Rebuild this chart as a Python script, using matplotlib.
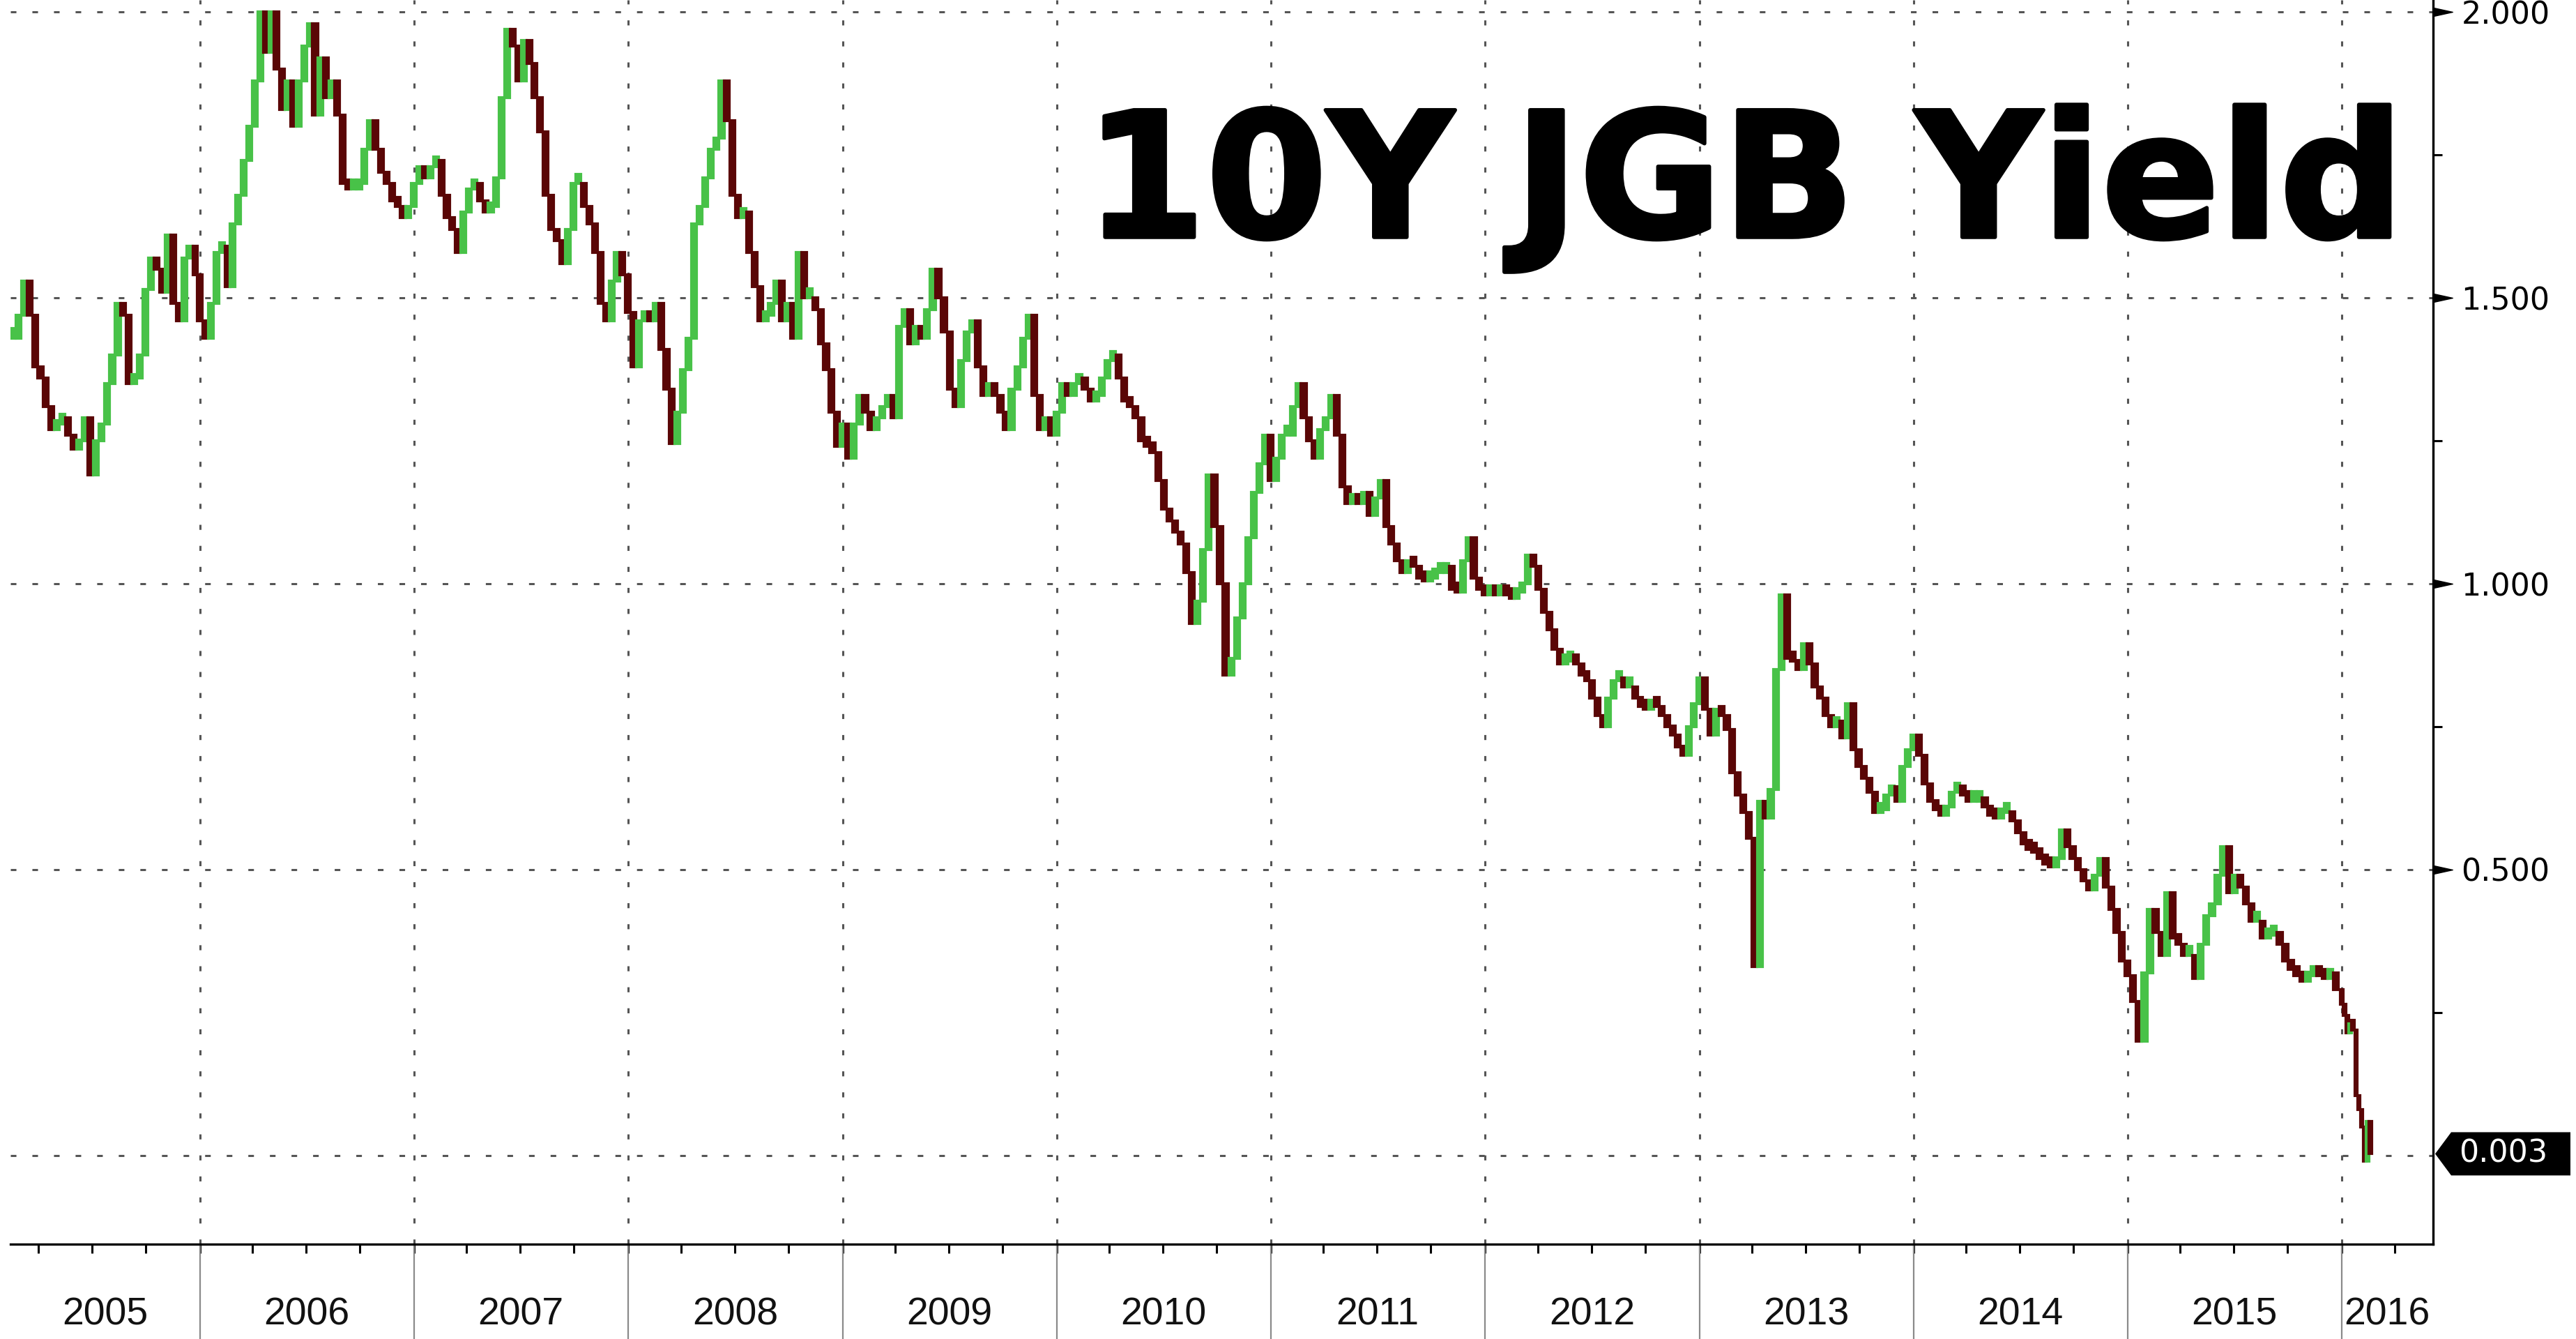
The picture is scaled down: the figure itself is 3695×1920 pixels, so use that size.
import numpy as np
import pandas as pd
import matplotlib
matplotlib.use('Agg')
import matplotlib.pyplot as plt
import matplotlib.dates as mdates
import matplotlib.patheffects as pe
from matplotlib.patches import Polygon
from matplotlib import font_manager

# 10Y JGB yield, ~10-day closes, one list per year
y2005 = [1.43, 1.47, 1.53, 1.47, 1.38, 1.36, 1.31, 1.27, 1.28, 1.29, 1.26, 1.235,
         1.25, 1.29, 1.19, 1.25, 1.28, 1.35, 1.40, 1.49, 1.47, 1.35, 1.36, 1.40,
         1.515, 1.57, 1.55, 1.51, 1.61, 1.49, 1.46, 1.57, 1.59, 1.54]
y2006 = [1.46, 1.43, 1.49, 1.58, 1.59, 1.52, 1.63, 1.68, 1.74, 1.80, 1.88, 2.00,
         1.93, 2.00, 1.90, 1.83, 1.88, 1.80, 1.88, 1.94, 1.98, 1.82, 1.92, 1.85,
         1.88, 1.82, 1.70, 1.69, 1.69, 1.70, 1.76, 1.81, 1.76, 1.72, 1.70, 1.67,
         1.66, 1.64, 1.66]
y2007 = [1.70, 1.73, 1.71, 1.73, 1.74, 1.68, 1.64, 1.62, 1.58, 1.65, 1.69, 1.70,
         1.67, 1.65, 1.66, 1.71, 1.85, 1.97, 1.94, 1.88, 1.95, 1.91, 1.85, 1.79,
         1.68, 1.62, 1.60, 1.56, 1.62, 1.70, 1.70, 1.66, 1.63, 1.58, 1.49, 1.46,
         1.53, 1.58, 1.54]
y2008 = [1.475, 1.38, 1.46, 1.47, 1.46, 1.49, 1.41, 1.34, 1.245, 1.30, 1.375, 1.43,
         1.63, 1.66, 1.71, 1.76, 1.78, 1.88, 1.81, 1.68, 1.64, 1.65, 1.58, 1.52,
         1.46, 1.47, 1.49, 1.53, 1.46, 1.49, 1.43, 1.58, 1.50, 1.50, 1.48, 1.42,
         1.375, 1.30, 1.24]
y2009 = [1.28, 1.22, 1.28, 1.33, 1.30, 1.27, 1.29, 1.31, 1.33, 1.29, 1.45, 1.48,
         1.42, 1.45, 1.43, 1.48, 1.55, 1.50, 1.44, 1.34, 1.31, 1.39, 1.44, 1.46,
         1.38, 1.33, 1.35, 1.33, 1.30, 1.27, 1.34, 1.38, 1.43, 1.47, 1.33, 1.27,
         1.29, 1.26]
y2010 = [1.30, 1.35, 1.33, 1.35, 1.36, 1.34, 1.32, 1.33, 1.36, 1.39, 1.40, 1.36,
         1.32, 1.31, 1.29, 1.25, 1.24, 1.23, 1.18, 1.13, 1.11, 1.09, 1.07, 1.02,
         0.93, 0.97, 1.06, 1.19, 1.10, 1.00, 0.84, 0.87, 0.94, 1.00, 1.08, 1.16,
         1.21, 1.26]
y2011 = [1.18, 1.22, 1.26, 1.26, 1.31, 1.35, 1.29, 1.25, 1.22, 1.27, 1.29, 1.33,
         1.26, 1.17, 1.14, 1.15, 1.14, 1.16, 1.12, 1.15, 1.18, 1.10, 1.07, 1.04,
         1.02, 1.04, 1.03, 1.01, 1.005, 1.01, 1.02, 1.02, 1.03, 0.99, 0.985, 1.04,
         1.08, 1.01, 0.99]
y2012 = [0.98, 0.99, 0.98, 0.985, 0.98, 0.975, 0.985, 1.00, 1.05, 1.03, 0.99, 0.95,
         0.92, 0.885, 0.86, 0.865, 0.875, 0.86, 0.84, 0.83, 0.80, 0.77, 0.75, 0.80,
         0.83, 0.83, 0.82, 0.82, 0.80, 0.785, 0.78, 0.79, 0.785, 0.77, 0.75, 0.735,
         0.715, 0.70, 0.75, 0.79]
y2013 = [0.835, 0.78, 0.735, 0.78, 0.77, 0.745, 0.67, 0.63, 0.60, 0.555, 0.33, 0.62,
         0.59, 0.64, 0.85, 0.98, 0.87, 0.865, 0.85, 0.895, 0.86, 0.82, 0.80, 0.77,
         0.75, 0.76, 0.73, 0.79, 0.71, 0.68, 0.66, 0.635, 0.60, 0.605, 0.63, 0.645,
         0.62, 0.68, 0.71]
y2014 = [0.735, 0.70, 0.65, 0.62, 0.605, 0.595, 0.61, 0.635, 0.64, 0.63, 0.62, 0.62,
         0.625, 0.61, 0.595, 0.59, 0.60, 0.60, 0.585, 0.565, 0.545, 0.535, 0.53, 0.52,
         0.51, 0.505, 0.52, 0.57, 0.54, 0.52, 0.50, 0.48, 0.465, 0.49, 0.52, 0.47,
         0.43, 0.39, 0.34]
y2015 = [0.315, 0.27, 0.20, 0.32, 0.43, 0.39, 0.35, 0.46, 0.38, 0.37, 0.35, 0.35,
         0.31, 0.37, 0.42, 0.44, 0.49, 0.54, 0.46, 0.49, 0.47, 0.44, 0.41, 0.41,
         0.38, 0.385, 0.39, 0.37, 0.34, 0.325, 0.315, 0.305, 0.315, 0.32, 0.315, 0.31,
         0.32, 0.29]
y2016 = [0.265, 0.245, 0.215, 0.23, 0.22, 0.105, 0.08, 0.05, -0.01, 0.06, 0.003]

years = [2005, 2006, 2007, 2008, 2009, 2010, 2011, 2012, 2013, 2014, 2015, 2016]
series = [y2005, y2006, y2007, y2008, y2009, y2010, y2011, y2012, y2013, y2014,
          y2015, y2016]
grid_levels = [0.0, 0.5, 1.0, 1.5, 2.0]
label_levels = [0.5, 1.0, 1.5, 2.0]
minor_levels = [0.25, 0.75, 1.25, 1.75]

GREEN = '#48c248'
RED = '#5a0606'
GRID = '#555555'


def year_dates(year, vals):
    if year == 2005:
        return pd.date_range('2005-02-16', '2005-12-24', periods=len(vals))
    if year == 2016:
        return pd.date_range('2016-01-01', '2016-02-19', periods=len(vals))
    return pd.date_range(f'{year}-01-01', f'{year + 1}-01-01', periods=len(vals) + 1)[:-1]


dates = np.concatenate([mdates.date2num(year_dates(y, v)) for y, v in zip(years, series)])
close = np.concatenate([np.array(v, dtype=float) for v in series])
opn = np.r_[close[0], close[:-1]]
lo = np.minimum(opn, close)
hi = np.maximum(opn, close)
body = np.maximum(hi - lo, 0.016)
colors = [GREEN if c >= o else RED for o, c in zip(opn, close)]
w = np.diff(dates)
w = np.r_[w, w[-1]]

names = {f.name for f in font_manager.fontManager.ttflist}
yearfont = 'Liberation Sans Narrow' if 'Liberation Sans Narrow' in names else 'Liberation Sans'

plt.rcParams['lines.scale_dashes'] = False
W, H = 3695, 1920
fig = plt.figure(figsize=(W / 100, H / 100), dpi=100)
ax_bottom = 1784
ax = fig.add_axes([15 / W, 1 - ax_bottom / H, (3490 - 15) / W, ax_bottom / H])

x0 = mdates.date2num(pd.Timestamp('2005-02-12'))
x1 = mdates.date2num(pd.Timestamp('2016-06-05'))
ax.set_xlim(x0, x1)
ax.set_ylim(-0.155, 2.021)

# grid
for lv in grid_levels:
    ax.axhline(lv, color=GRID, lw=2.2, ls=(0, (5.8, 16.5)), zorder=1)
year_starts = [mdates.date2num(pd.Timestamp(f'{y}-01-01')) for y in years[1:]]
for d in year_starts:
    ax.axvline(d, color=GRID, lw=2.2, ls=(0, (5.2, 16.5)), zorder=1)

# candles (open = previous close)
ax.bar(dates, body, bottom=lo, width=w * 0.9, color=colors, edgecolor=colors,
       linewidth=3.0, align='center', zorder=3)

# spines
for s in ['top', 'left']:
    ax.spines[s].set_visible(False)
for s in ['bottom', 'right']:
    ax.spines[s].set_linewidth(2.4)
    ax.spines[s].set_color('black')

# y axis on the right
ax.yaxis.tick_right()
ax.set_yticks(label_levels)
ax.set_yticklabels([f'{v:.3f}' for v in label_levels], fontsize=32, family='DejaVu Sans')
ax.set_yticks(minor_levels, minor=True)
ax.tick_params(axis='y', which='major', length=0, pad=29)
ax.tick_params(axis='y', which='minor', length=9, width=2.2, color='black')
tri = [(0, -0.22), (1, 0), (0, 0.22)]
ax.plot(np.ones(len(label_levels)), label_levels, transform=ax.get_yaxis_transform(),
        ls='none', marker=tri, ms=40, color='black', clip_on=False, zorder=5)

# last value tag
fig.canvas.draw()
ty = ax.transData.transform((x1, close[-1]))[1]
tag = [(3493, ty), (3516, ty + 31), (3687, ty + 31), (3687, ty - 31), (3516, ty - 31)]
fig.add_artist(Polygon(tag, closed=True, transform=None, fc='black', ec='none', zorder=6))
fig.text(3527 / W, ty / H, f'{close[-1]:.3f}', ha='left', va='center', color='white',
         fontsize=32, family='DejaVu Sans', zorder=7)

# x axis: quarter ticks, year labels between gray separators
ax.xaxis.set_major_locator(mdates.MonthLocator(bymonth=[1, 4, 7, 10]))
ax.tick_params(axis='x', which='major', length=9, width=2.2, color='black',
               direction='out', labelbottom=False)
xt = ax.get_xaxis_transform()
for d in year_starts:
    ax.plot([d, d], [0, -0.09], transform=xt, color='#8a8a8a', lw=1.6, clip_on=False)
for y in years:
    a = max(mdates.date2num(pd.Timestamp(f'{y}-01-01')), x0)
    b = min(mdates.date2num(pd.Timestamp(f'{y + 1}-01-01')), x1)
    ax.text((a + b) / 2, -101 / ax_bottom, str(y), transform=xt, ha='center',
            va='center', fontsize=40, family=yearfont, color='#111111')

# title
fig.text(3449 / W, 1 - 340 / H, '10Y JGB Yield', ha='right', va='baseline',
         fontsize=180, fontweight='bold', family='DejaVu Sans', color='black',
         path_effects=[pe.withStroke(linewidth=4, foreground='black')])

fig.savefig('out.png', dpi=100)
